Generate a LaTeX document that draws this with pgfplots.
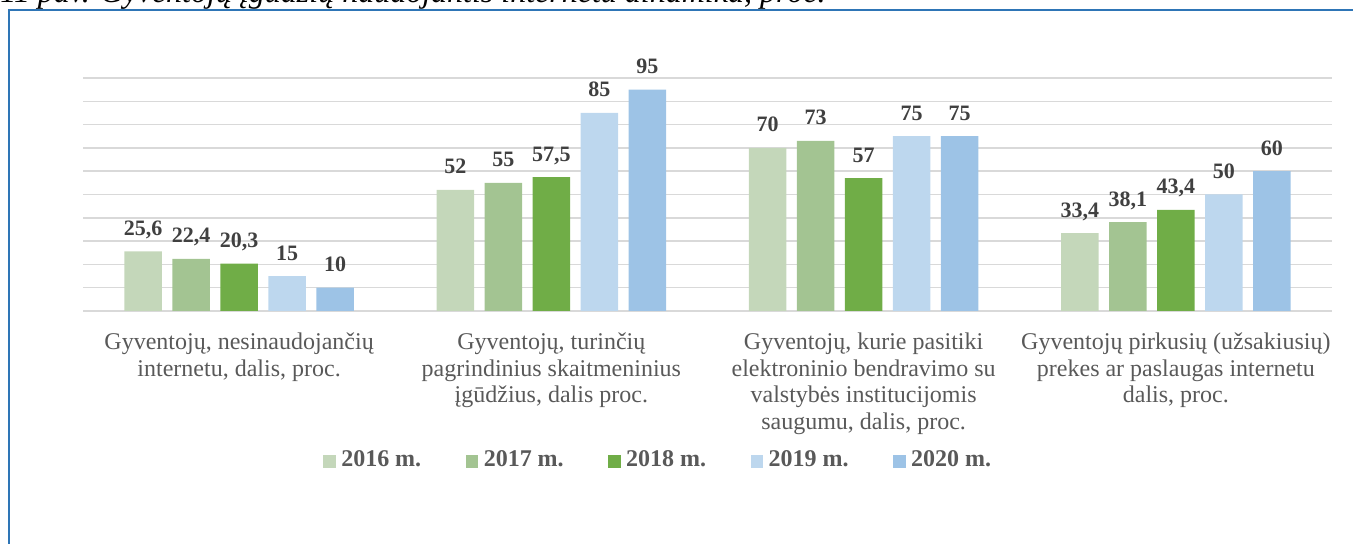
\documentclass[border=0pt]{standalone}
\usepackage{fontspec}
\setmainfont{Liberation Serif}
\usepackage{pgfplots}
\pgfplotsset{compat=1.18}
\definecolor{c2016}{HTML}{C4D7BA}
\definecolor{c2017}{HTML}{A3C492}
\definecolor{c2018}{HTML}{70AD47}
\definecolor{c2019}{HTML}{BDD7EE}
\definecolor{c2020}{HTML}{9DC3E6}
\definecolor{gridgray}{HTML}{D9D9D9}
\definecolor{labelgray}{HTML}{595959}
\definecolor{datagray}{HTML}{404040}
\definecolor{framecol}{HTML}{2E75B6}
\begin{document}
\begin{tikzpicture}
\useasboundingbox (0pt,0pt) rectangle (676.5pt,-272pt);
\node[anchor=base west, inner sep=0pt, font=\fontsize{16}{19}\selectfont\itshape] at (0pt,-1.2pt) {11 pav. Gyventojų įgūdžių naudojantis internetu dinamika, proc.};
\draw[framecol, line width=1pt] (4.5pt,-300pt) -- (4.5pt,-5pt) -- (700pt,-5pt);
\begin{axis}[
  at={(41.5pt,-39pt)}, anchor=north west,
  scale only axis, width=624.5pt, height=116.5pt,
  xmin=-0.5, xmax=3.5, ymin=0, ymax=100,
  ytick={0,10,...,100}, yticklabels={},
  ymajorgrids, grid style={draw=gridgray, line width=0.75pt},
  axis line style={draw=none}, major tick length=0pt,
  xtick={0,1,2,3},
  xticklabels={{Gyventojų, nesinaudojančių\\internetu, dalis, proc.},
               {Gyventojų, turinčių\\pagrindinius skaitmeninius\\įgūdžius, dalis proc.},
               {Gyventojų, kurie pasitiki\\elektroninio bendravimo su\\valstybės institucijomis\\saugumu, dalis, proc.},
               {Gyventojų pirkusių (užsakiusių)\\prekes ar paslaugas internetu\\dalis, proc.}},
  xticklabel style={align=center, font=\fontsize{12}{13.35}\selectfont, text=labelgray, anchor=north, yshift=-10.7pt, inner sep=0pt},
  ybar=5.15pt, bar width=18.85pt,
  nodes near coords, point meta=explicit symbolic,
  every node near coord/.append style={font=\fontsize{11}{13}\selectfont\bfseries, text=datagray, anchor=base, yshift=8pt, inner sep=0pt},
  legend columns=5,
  legend image code/.code={\fill[#1] (0pt,-4pt) rectangle (6.25pt,2.25pt);},
  legend style={at={(rel axis cs:0.1922,-0.639)}, anchor=west, draw=none, fill=none, inner sep=0pt, outer sep=0pt,
     font=\fontsize{12}{14}\selectfont\bfseries, text=labelgray,
     nodes={inner sep=0pt},
     /tikz/every odd column/.append style={column sep=2.85pt},
     /tikz/every even column/.append style={column sep=22.15pt}},
]
\addplot[fill=c2016, draw=none] coordinates {(0,25.6) [25,6] (1,52) [52] (2,70) [70] (3,33.4) [33,4]};
\addplot[fill=c2017, draw=none] coordinates {(0,22.4) [22,4] (1,55) [55] (2,73) [73] (3,38.1) [38,1]};
\addplot[fill=c2018, draw=none] coordinates {(0,20.3) [20,3] (1,57.5) [57,5] (2,57) [57] (3,43.4) [43,4]};
\addplot[fill=c2019, draw=none] coordinates {(0,15) [15] (1,85) [85] (2,75) [75] (3,50) [50]};
\addplot[fill=c2020, draw=none] coordinates {(0,10) [10] (1,95) [95] (2,75) [75] (3,60) [60]};
\legend{2016 m.,2017 m.,2018 m.,2019 m.,2020 m.}
\end{axis}
\end{tikzpicture}
\end{document}
